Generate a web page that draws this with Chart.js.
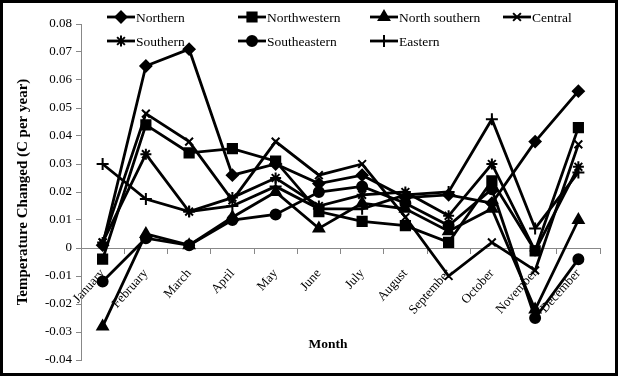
<!DOCTYPE html>
<html>
<head>
<meta charset="utf-8">
<script src="https://cdn.jsdelivr.net/npm/chart.js@4/dist/chart.umd.min.js"></script>
<style>
  body { margin: 0; background: #fff; }
  #frame { width: 618px; height: 376px; box-sizing: border-box; border: 3px solid #000; position: relative; }
  canvas { display: block; }
</style>
</head>
<body>
<div id="frame"><canvas id="tempChart" width="612" height="370"></canvas></div>
<script>
// Months on the x axis
const months = ['January', 'February', 'March', 'April', 'May', 'June',
                'July', 'August', 'September', 'October', 'November', 'December'];

// Temperature change (C per year)
const northern     = [0.001, 0.065, 0.071, 0.026, 0.030, 0.023, 0.026, 0.018, 0.019, 0.016, 0.038, 0.056];
const northwestern = [-0.004, 0.044, 0.034, 0.0355, 0.031, 0.013, 0.0095, 0.008, 0.002, 0.024, -0.001, 0.043];
const northSouthern = [-0.028, 0.005, 0.001, 0.011, 0.020, 0.007, 0.016, 0.014, 0.006, 0.014, -0.022, 0.010];
const central      = [0.002, 0.048, 0.038, 0.017, 0.038, 0.026, 0.030, 0.011, -0.010, 0.002, -0.008, 0.037];
const southern     = [0.002, 0.0335, 0.013, 0.018, 0.025, 0.015, 0.019, 0.020, 0.0115, 0.030, -0.001, 0.029];
const southeastern = [-0.012, 0.0035, 0.001, 0.010, 0.012, 0.020, 0.022, 0.016, 0.008, 0.021, -0.025, -0.004];
const eastern      = [0.030, 0.0175, 0.013, 0.015, 0.022, 0.014, 0.014, 0.019, 0.020, 0.046, 0.007, 0.027];

const yTicks = { min: -0.04, max: 0.08, step: 0.01 };

const serif = 'Liberation Serif';

function series(label, data, style, radius) {
    return {
        label: label,
        data: data,
        borderColor: '#000',
        backgroundColor: '#000',
        borderWidth: 2.8,
        tension: 0,
        pointStyle: style,
        pointRadius: radius,
        pointBorderWidth: 2,
        pointBackgroundColor: '#000',
        pointBorderColor: '#000'
    };
}

const datasets = [
    series('Northern', northern, 'rectRot', 5.5),
    series('Northwestern', northwestern, 'rect', 6.5),
    series('North southern', northSouthern, 'triangle', 6),
    series('Central', central, 'crossRot', 5.5),
    series('Southern', southern, 'star', 5.5),
    series('Southeastern', southeastern, 'circle', 5),
    series('Eastern', eastern, 'cross', 6)
];

// Legend drawn inside the plot, two rows like the original
const legendPlugin = {
    id: 'insideLegend',
    afterDraw(chart) {
        const ctx = chart.ctx;
        const cols = [104, 235, 367, 500];
        const rows = [14, 38];
        ctx.save();
        ctx.font = '13.5px "' + serif + '"';
        ctx.textBaseline = 'middle';
        ctx.fillStyle = '#000';
        chart.data.datasets.forEach((ds, i) => {
            const x = cols[i % 4];
            const y = rows[Math.floor(i / 4)];
            ctx.strokeStyle = '#000';
            ctx.lineWidth = 2.8;
            ctx.beginPath();
            ctx.moveTo(x, y);
            ctx.lineTo(x + 28, y);
            ctx.stroke();
            ctx.lineWidth = ds.pointBorderWidth;
            Chart.helpers.drawPoint(ctx, {
                pointStyle: ds.pointStyle,
                radius: ds.pointRadius,
                rotation: 0,
                borderWidth: ds.pointBorderWidth
            }, x + 14, y);
            ctx.fillStyle = '#000';
            ctx.fillText(ds.label, x + 29, y + 1);
        });
        // x axis title, sits low under the rotated month labels
        ctx.font = 'bold 13.5px "' + serif + '"';
        ctx.textAlign = 'center';
        ctx.fillText('Month', 325, 342);
        ctx.restore();
    }
};

new Chart(document.getElementById('tempChart'), {
    type: 'line',
    data: { labels: months, datasets: datasets },
    options: {
        responsive: false,
        animation: false,
        layout: { padding: { top: 21, right: 15, bottom: 13, left: 0 } },
        plugins: {
            legend: { display: false },
            tooltip: { enabled: false }
        },
        scales: {
            x: {
                position: { y: 0 },
                offset: true,
                grid: { offset: true, drawOnChartArea: false, drawTicks: true, tickLength: 5, color: '#888' },
                border: { color: '#888', width: 1 },
                ticks: {
                    color: '#000',
                    font: { family: serif, size: 13 },
                    minRotation: 48,
                    maxRotation: 48,
                    padding: 13,
                    autoSkip: false
                }
            },
            y: {
                min: yTicks.min,
                max: yTicks.max,
                afterFit(scale) { scale.width = 78; },
                grid: { drawOnChartArea: false, drawTicks: true, tickLength: 5, color: '#888' },
                border: { color: '#888', width: 1 },
                ticks: {
                    stepSize: yTicks.step,
                    color: '#000',
                    padding: 4,
                    font: { family: serif, size: 13 },
                    callback: v => String(Math.round(v * 100) / 100)
                },
                title: {
                    display: true,
                    text: 'Temperature Changed (C per year)',
                    color: '#000',
                    font: { family: serif, size: 15, weight: 'bold' },
                    padding: { top: 11, bottom: 0 }
                }
            }
        }
    },
    plugins: [legendPlugin]
});
</script>
</body>
</html>
